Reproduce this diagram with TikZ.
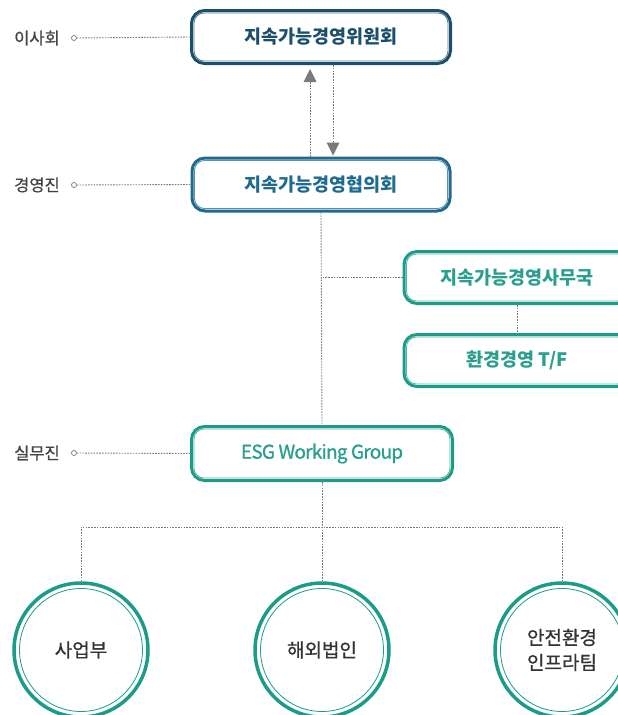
\documentclass[tikz,border=0pt]{standalone}
\usepackage{fontspec}
\setmainfont{Noto Sans CJK KR}
\usetikzlibrary{arrows.meta}
\definecolor{navyA}{HTML}{1B4F6B}
\definecolor{navyB}{HTML}{1E6B8F}
\definecolor{teal}{HTML}{1C9C88}
\definecolor{tealtxt}{HTML}{2A9F8E}
\definecolor{dotgray}{HTML}{7A7A7A}
\definecolor{labgray}{HTML}{444444}
\definecolor{circtxt}{HTML}{333333}
\tikzset{
  x=1pt, y=-1pt,
  boxA/.style={draw, rectangle, rounded corners=13pt, line width=3pt, minimum height=53pt, inner sep=0pt, fill=white, font=\fontsize{18.5}{22}\selectfont\bfseries},
  innerbox/.style={line width=0.8pt, rounded corners=10pt},
  circbox/.style={draw=teal, circle, line width=3.5pt, minimum size=134pt, inner sep=0pt, fill=white, text=circtxt, align=center, font=\fontsize{19}{25}\selectfont\addfontfeatures{FakeBold=0.8}},
  dotline/.style={draw=dotgray, line width=0.9pt, dash pattern=on 1.6pt off 1.2pt},
  lab/.style={text=labgray, font=\fontsize{16.5}{18}\selectfont\addfontfeatures{FakeBold=0.8}, inner sep=0pt},
  tipgray/.style={-{Triangle[width=13pt,length=13pt]}, dotgray}
}
\begin{document}
\begin{tikzpicture}
\useasboundingbox (0,0) rectangle (618,715);
% boxes
\node[boxA, draw=navyA, text=navyA, minimum width=259pt] (b1) at (321,37) {지속가능경영위원회};
\node[boxA, draw=navyB, text=navyB, minimum width=258pt] (b2) at (321,184.5) {지속가능경영협의회};
\node[boxA, draw=teal, text=tealtxt, minimum width=226pt, minimum height=52pt] (b3) at (517,277.5) {지속가능경영사무국};
\node[boxA, draw=teal, text=tealtxt, minimum width=226pt, minimum height=52pt] (b4) at (517,360.5) {환경경영 T/F};
\node[boxA, draw=teal, text=tealtxt, minimum width=261pt, minimum height=54pt, font=\fontsize{19}{22}\selectfont\addfontfeatures{FakeBold=1,LetterSpace=-4}] (b5) at (322,453.5) {ESG Working Group};
% inner borders
\foreach \n/\c in {b1/navyA, b2/navyB, b3/teal, b4/teal, b5/teal}{
  \draw[innerbox, draw=\c!75] ([xshift=4pt,yshift=-4pt]\n.north west) rectangle ([xshift=-4pt,yshift=4pt]\n.south east);
}
% circles
\node[circbox] (c1) at (81,650) {사업부};
\node[circbox] (c2) at (322,650) {해외법인};
\node[circbox] (c3) at (562,650) {안전환경\\인프라팀};
\foreach \n in {c1,c2,c3}{
  \draw[teal, line width=0.8pt] (\n.center) circle (61.5);
}
% left labels
\node[lab] (l1) at (37,38) {이사회};
\node[lab] (l2) at (37,185) {경영진};
\node[lab] (l3) at (37,453) {실무진};
\coordinate (d1) at (74,38);
\coordinate (d2) at (74,185);
\coordinate (d3) at (74,453);
\draw[dotline] (d1) -- (b1.west);
\draw[dotline] (d2) -- (b2.west);
\draw[dotline] (d3) -- (b5.west);
\foreach \d in {d1,d2,d3}{
  \draw[dotgray, line width=0.7pt, fill=white] (\d) circle (2.5);
}
% arrows between b1 and b2
\draw[dotline] ([xshift=-11pt]b2.north) -- ([xshift=-11pt,yshift=-16pt]b1.south);
\draw[tipgray, line width=0pt, shorten >=4pt] ([xshift=-11pt,yshift=-18pt]b1.south) -- ([xshift=-11pt]b1.south);
\draw[dotline] ([xshift=12pt]b1.south) -- ([xshift=12pt,yshift=13pt]b2.north);
\draw[tipgray, line width=0pt, shorten >=1pt] ([xshift=12pt,yshift=14pt]b2.north) -- ([xshift=12pt]b2.north);
% connectors
\draw[dotline] (b2.south) -- (b5.north);
\draw[dotline] (b3.west) -- (b3.west -| b2.south);
\draw[dotline] (b3.south) -- (b4.north);
\coordinate (hub) at (322,527);
\draw[dotline] (b5.south) -- (c2.north);
\draw[dotline] (c1.north) |- (hub) -| (c3.north);
\end{tikzpicture}
\end{document}
